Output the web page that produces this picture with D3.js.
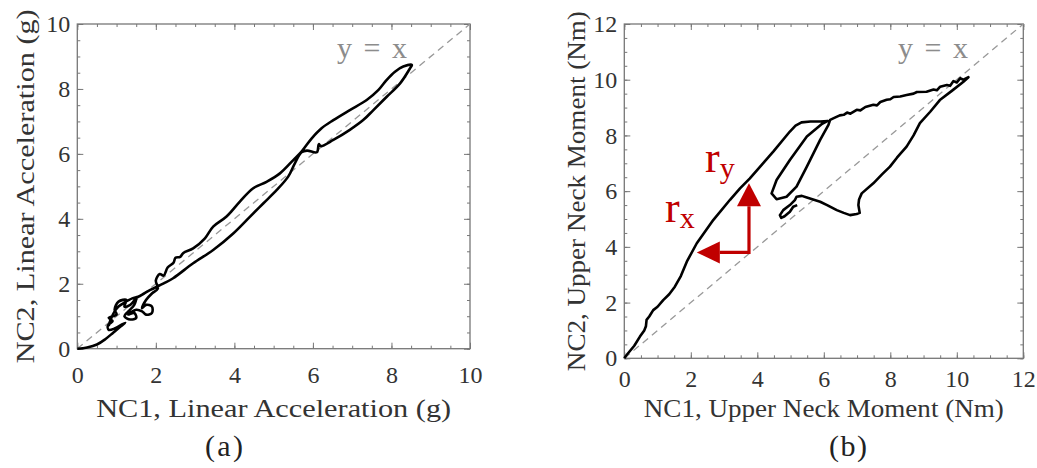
<!DOCTYPE html>
<html>
<head>
<meta charset="utf-8">
<script src="https://cdn.jsdelivr.net/npm/d3@7"></script>
<style>
  body { margin: 0; background: #fff; }
  text { font-family: "Liberation Serif", "Times New Roman", serif; }
</style>
</head>
<body>
<svg width="1037" height="468"></svg>
<script>
// panel (a): NC1 vs NC2 linear acceleration (g)
const accelCurve = [
  [0,0],[0.25,0.04],[0.5,0.13],[0.72,0.3],[0.92,0.5],[1.1,0.68],[1.22,0.8],
  [0.95,0.62],[0.8,0.58],[0.78,0.72],[0.9,0.85],[0.8,0.95],[1.0,1.05],[0.95,1.2],
  [1.05,1.45],[1.25,1.5],[1.2,1.3],[1.35,1.35],[1.5,1.55],[1.45,1.35],[1.3,1.15],
  [1.2,1.0],[1.35,0.9],[1.5,0.95],[1.45,1.1],[1.3,1.05],[1.5,1.2],[1.65,1.15],
  [1.75,1.05],[1.9,1.1],[1.9,1.3],[1.75,1.35],[1.65,1.25],[1.75,1.5],[1.9,1.7],
  [2.05,1.85],[2.0,2.1],[2.1,2.3],[2.2,2.25],[2.3,2.5],[2.45,2.65],[2.5,2.8],
  [2.62,2.83],[2.7,2.95],[2.95,3.09],[3.25,3.4],[3.46,3.76],[3.8,4.07],[4.14,4.53],
  [4.48,4.94],[4.82,5.14],[5.16,5.4],[5.5,5.81],[5.71,6.07],[5.97,6.48],[6.22,6.79],
  [6.52,7.04],[6.94,7.35],[7.37,7.66],[7.67,7.97],[7.88,8.28],[8.09,8.53],[8.3,8.69],
  [8.52,8.74],[8.47,8.63],[8.22,8.17],[7.88,7.76],[7.54,7.35],[7.28,7.04],[6.94,6.74],
  [6.52,6.43],[6.2,6.24],[6.15,6.3],[6.1,6.05],[5.85,6.1],[5.71,6.05],[5.54,5.71],
  [5.37,5.3],[5.08,4.89],[4.74,4.48],[4.4,4.07],[3.97,3.55],[3.46,3.04],[2.95,2.63],
  [2.44,2.17],[2.2,2.01],[1.86,1.81],[1.7,1.7],[1.55,1.6],[1.4,1.55],
  [1.2,1.42],[1.05,1.3],[0.95,1.15],[0.85,0.9],[0.8,0.7]
];

// panel (b): NC1 vs NC2 upper neck moment (Nm)
const momentCurve = [
  [0,0],[0.07,0.12],[0.3,0.45],[0.47,0.78],[0.6,1.0],[0.65,1.15],[0.67,1.38],
  [0.75,1.5],[0.87,1.73],[1.0,1.85],[1.17,2.09],[1.35,2.3],[1.52,2.57],[1.7,2.95],
  [1.88,3.47],[2.18,4.13],[2.68,4.97],[3.18,5.69],[3.48,6.1],[3.77,6.45],[4.48,7.42],
  [4.98,8.14],[5.15,8.35],[5.33,8.47],[5.6,8.5],[5.89,8.5],[6.12,8.52],[5.95,8.42],
  [5.49,7.96],[4.98,7.12],[4.58,6.4],[4.43,5.92],[4.58,5.71],[4.88,5.8],[5.18,6.16],
  [5.49,6.88],[5.89,7.84],[6.14,8.38],[6.19,8.56],
  [6.3,8.62],[6.48,8.72],[6.6,8.74],[6.7,8.82],[6.8,8.78],[6.99,8.92],[7.1,8.9],
  [7.25,9.02],[7.49,9.1],[7.6,9.08],[7.7,9.2],[7.89,9.28],[8.0,9.3],[8.1,9.38],
  [8.3,9.4],[8.49,9.45],[8.7,9.5],[8.8,9.56],[9.09,9.57],[9.3,9.65],[9.4,9.62],
  [9.5,9.75],[9.7,9.81],[9.8,9.78],[9.9,9.95],[10.0,9.9],[10.1,10.05],[10.2,10.0],
  [10.35,10.09],
  [10.2,9.93],[9.85,9.6],[9.49,9.27],[9.2,8.85],[8.89,8.44],[8.7,8.0],[8.49,7.6],
  [8.2,7.2],[7.99,6.88],[7.75,6.6],[7.49,6.28],[7.14,5.92],[7.06,5.7],[7.04,5.5],
  [7.08,5.22],[6.99,5.18],[6.79,5.14],[6.6,5.22],[6.39,5.32],[6.1,5.5],[5.89,5.62],
  [5.49,5.77],[5.34,5.83],[5.18,5.8],[5.13,5.68],[4.98,5.5],[4.78,5.32],[4.68,5.14],
  [4.72,5.04],[4.82,5.1],[4.98,5.26],[5.08,5.44],[5.2,5.5]
];

const accelTicks = [0, 2, 4, 6, 8, 10];
const momentTicks = [0, 2, 4, 6, 8, 10, 12];

// r_x / r_y arrows in panel (b), in data units
const arrowCorner = [3.75, 3.8];
const arrowXTip = 2.18;
const arrowYTip = 6.28;

const svg = d3.select('svg');
const red = '#c00000';

function drawPanel(p) {
  const x = d3.scaleLinear().domain([0, p.max]).range([p.left, p.right]);
  const y = d3.scaleLinear().domain([0, p.max]).range([p.bottom, p.top]);
  const minor = d3.range(0, p.max + 0.01, 0.5);
  const g = svg.append('g');

  // inward ticks on all four sides
  const axes = [
    [d3.axisBottom(x), `translate(0,${p.bottom})`, true, p.xPad],
    [d3.axisTop(x), `translate(0,${p.top})`, false, 3],
    [d3.axisLeft(y), `translate(${p.left},0)`, true, 7],
    [d3.axisRight(y), `translate(${p.right},0)`, false, 3]
  ];
  axes.forEach(([ax, tr, labels, pad]) => {
    g.append('g').attr('transform', tr)
      .call(ax.tickValues(minor).tickSize(-3).tickFormat(''))
      .call(s => s.select('.domain').remove())
      .selectAll('line').attr('stroke', '#777');
    const major = g.append('g').attr('transform', tr)
      .call(ax.tickValues(p.ticks).tickSize(-6).tickPadding(pad)
        .tickFormat(labels ? d3.format('d') : ''))
      .call(s => s.select('.domain').remove());
    major.selectAll('line').attr('stroke', '#777');
    major.selectAll('text')
      .attr('font-size', 24)
      .attr('fill', '#333')
      .style('font-family', '"Liberation Serif", serif');
  });

  g.append('rect')
    .attr('x', p.left).attr('y', p.top)
    .attr('width', p.right - p.left).attr('height', p.bottom - p.top)
    .attr('fill', 'none').attr('stroke', '#777').attr('stroke-width', 1.3);

  // y = x reference
  g.append('line')
    .attr('x1', x(0)).attr('y1', y(0))
    .attr('x2', x(p.max)).attr('y2', y(p.max))
    .attr('stroke', '#999').attr('stroke-width', 1.3)
    .attr('stroke-dasharray', '7,5');

  g.append('text')
    .attr('x', p.yxX).attr('y', 58)
    .attr('font-size', 30).attr('fill', '#8c8c8c')
    .attr('textLength', 70).attr('lengthAdjust', 'spacing')
    .text('y = x');

  g.append('path')
    .datum(p.curve)
    .attr('fill', 'none')
    .attr('stroke', '#000')
    .attr('stroke-width', 2.6)
    .attr('stroke-linejoin', 'round')
    .attr('d', d3.line().x(d => x(d[0])).y(d => y(d[1])).curve(p.smooth));

  g.append('text')
    .attr('x', (p.left + p.right) / 2).attr('y', 417)
    .attr('text-anchor', 'middle')
    .attr('font-size', 26).attr('fill', '#333')
    .attr('textLength', p.xLabelLen).attr('lengthAdjust', 'spacingAndGlyphs')
    .text(p.xLabel);

  g.append('text')
    .attr('transform', `translate(${p.yLabelX},${(p.top + p.bottom) / 2}) rotate(-90)`)
    .attr('text-anchor', 'middle')
    .attr('font-size', 26).attr('fill', '#333')
    .attr('textLength', p.yLabelLen).attr('lengthAdjust', 'spacingAndGlyphs')
    .text(p.yLabel);

  g.append('text')
    .attr('x', p.capX).attr('y', 456)
    .attr('text-anchor', 'middle')
    .attr('font-size', 30).attr('fill', '#222')
    .attr('textLength', 38).attr('lengthAdjust', 'spacing')
    .text(p.caption);

  return { x, y, g };
}

drawPanel({
  left: 77.3, right: 470, top: 24, bottom: 348.7, max: 10, xPad: 17,
  ticks: accelTicks, curve: accelCurve, smooth: d3.curveCatmullRom,
  yxX: 337, xLabel: 'NC1, Linear Acceleration (g)', xLabelLen: 355,
  yLabel: 'NC2, Linear Acceleration (g)', yLabelX: 34, yLabelLen: 354,
  caption: '(a)', capX: 224
});

const b = drawPanel({
  left: 624.3, right: 1023.3, top: 24, bottom: 358.3, max: 12, xPad: 12,
  ticks: momentTicks, curve: momentCurve, smooth: d3.curveLinear,
  yxX: 898, xLabel: 'NC1, Upper Neck Moment (Nm)', xLabelLen: 360,
  yLabel: 'NC2, Upper Neck Moment (Nm)', yLabelX: 585, yLabelLen: 360,
  caption: '(b)', capX: 848
});

// arrows
const cx = b.x(arrowCorner[0]), cy = b.y(arrowCorner[1]);
const hx = b.x(arrowXTip), hy = b.y(arrowYTip);
const head = 23;
b.g.append('path')
  .attr('d', `M${hx + head},${cy}H${cx}V${hy + head}`)
  .attr('fill', 'none').attr('stroke', red).attr('stroke-width', 3.2);
b.g.append('path')
  .attr('d', `M${cx},${hy}L${cx - 12},${hy + head}L${cx + 12},${hy + head}Z`)
  .attr('fill', red);
b.g.append('path')
  .attr('d', `M${hx},${cy}L${hx + head},${cy - 11}L${hx + head},${cy + 11}Z`)
  .attr('fill', red);

function rLabel(px, py, sub) {
  const t = b.g.append('text').attr('x', px).attr('y', py).attr('fill', red);
  t.append('tspan').attr('font-size', 44).text('r');
  t.append('tspan').attr('font-size', 30).attr('dy', 6).text(sub);
}
rLabel(705, 171.7, 'y');
rLabel(665, 221.7, 'x');
</script>
</body>
</html>
